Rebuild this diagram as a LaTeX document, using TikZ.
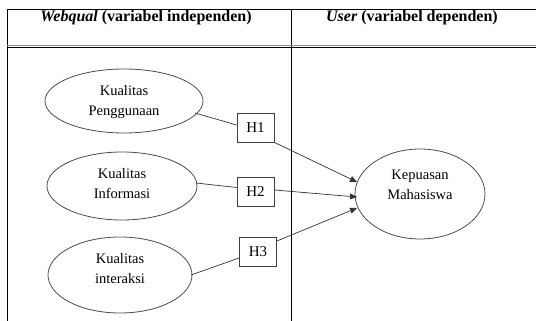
\documentclass[tikz,border=0pt]{standalone}
\usepackage{fontspec}
\setmainfont{Liberation Serif}
\usetikzlibrary{arrows.meta}
\begin{document}
\begin{tikzpicture}[x=1pt,y=-1pt,
  hbox/.style={draw=black!75,line width=0.8pt,minimum width=37pt,minimum height=29pt,inner sep=0pt,font=\fontsize{15}{17}\selectfont},
  etext/.style={align=center,font=\fontsize{14.5}{20}\selectfont},
  eline/.style={draw=black!70,line width=0.8pt},
  conn/.style={draw=black!80,line width=0.7pt},
  arr/.style={conn,-{Triangle[length=7pt,width=6pt]}},
  hdr/.style={font=\bfseries\fontsize{16}{18}\selectfont}
]
\useasboundingbox (0,0) rectangle (536,321);
% table
\draw[line width=0.8pt] (7,321) -- (7,9) -- (536,9);
\draw[line width=0.8pt] (291,9) -- (291,321);
\draw[black!45,line width=0.8pt] (7,45) -- (536,45);
\draw[line width=0.8pt] (7,47.5) -- (536,47.5);
\node[hdr] (h1) at (146,18) {\textit{Webqual} (variabel independen)};
\node[hdr] (h2) at (412,18) {\textit{User} (variabel dependen)};
% ellipses
\draw[eline] (124,101) ellipse [x radius=79, y radius=32];
\node[etext] (e1) at (124,102) {Kualitas\\Penggunaan};
\draw[eline] (122,186) ellipse [x radius=75, y radius=34];
\node[etext] (e2) at (122,184) {Kualitas\\Informasi};
\draw[eline] (120,275) ellipse [x radius=72, y radius=38];
\node[etext] (e3) at (120,269) {Kualitas\\interaksi};
\draw[eline] (420,194) ellipse [x radius=65, y radius=45];
\node[etext] (k) at (420,185) {Kepuasan\\Mahasiswa};
% boxes
\node[hbox] (b1) at (255.5,127.5) {H1};
\node[hbox] (b2) at (255.5,191.5) {H2};
\node[hbox] (b3) at (258,251.5) {H3};
\coordinate (e1r) at (195,113);
\coordinate (e2r) at (196,183);
\coordinate (e3r) at (191,275);
\coordinate (k1) at (357,182);
\coordinate (k2) at (357,197);
\coordinate (k3) at (357,208);
\draw[conn] (e1r) -- (b1.west |- 0,125);
\draw[conn] (e2r) -- (b2.west |- 0,187.5);
\draw[conn] (e3r) -- (b3.west |- 0,258);
\draw[arr] (b1.south east) -- (k1);
\draw[arr] (b2.east |- 0,190) -- (k2);
\draw[arr] (b3.east |- 0,241) -- (k3);
\end{tikzpicture}
\end{document}
